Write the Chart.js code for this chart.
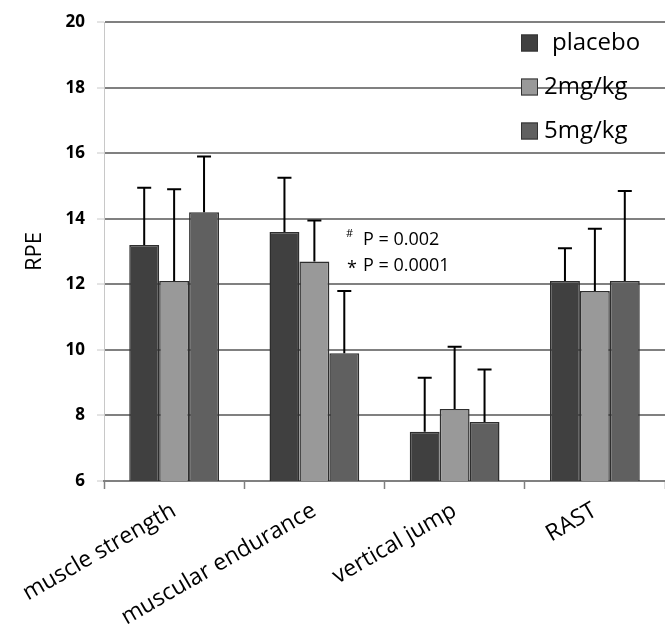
<!DOCTYPE html>
<html>
<head>
<meta charset="utf-8">
<script src="https://cdn.jsdelivr.net/npm/chart.js@4.4.1/dist/chart.umd.min.js"></script>
<style>
  html, body { margin: 0; padding: 0; background: #fff; }
  #wrap { width: 665px; height: 639px; }
</style>
</head>
<body>
<div id="wrap"><canvas id="myChart" width="665" height="639"></canvas></div>
<script>
// data
const categories = ['muscle strength', 'muscular endurance', 'vertical jump', 'RAST'];
const seriesNames = ['placebo', '2mg/kg', '5mg/kg'];
const placebo = [13.2, 13.6, 7.5, 12.1];
const mg2 = [12.1, 12.7, 8.2, 11.8];
const mg5 = [14.2, 9.9, 7.8, 12.1];
const placeboSD = [1.75, 1.65, 1.65, 1.0];
const mg2SD = [2.8, 1.25, 1.9, 1.9];
const mg5SD = [1.7, 1.9, 1.6, 2.75];
const yTicks = [6, 8, 10, 12, 14, 16, 18, 20];
const noteLines = ['P = 0.002', 'P = 0.0001'];
const noteMarks = ['#', '*'];

const colors = ['#404040', '#999999', '#606060'];
const FONT = '"Open Sans", Lato, sans-serif';

const canvas = document.getElementById('myChart');
const ctx = canvas.getContext('2d');

// upper error bars with caps
const errorBars = {
  id: 'errorBars',
  afterDatasetsDraw(chart) {
    const c = chart.ctx;
    const y = chart.scales.y;
    c.save();
    c.strokeStyle = '#000';
    c.lineWidth = 2;
    chart.data.datasets.forEach((ds, i) => {
      const meta = chart.getDatasetMeta(i);
      meta.data.forEach((bar, j) => {
        const top = y.getPixelForValue(ds.data[j] + ds.sd[j]);
        c.beginPath();
        c.moveTo(bar.x, bar.y);
        c.lineTo(bar.x, top);
        c.moveTo(bar.x - 7, top);
        c.lineTo(bar.x + 7, top);
        c.stroke();
      });
    });
    c.restore();
  }
};

// legend and p-value note drawn inside the plot
const extras = {
  id: 'extras',
  afterDraw(chart) {
    const c = chart.ctx;
    c.save();
    c.textBaseline = 'middle';
    seriesNames.forEach((name, i) => {
      const cy = 43 + i * 44;
      c.fillStyle = colors[i];
      c.fillRect(521, cy - 8.5, 17, 17);
      c.strokeStyle = '#333';
      c.lineWidth = 1;
      c.strokeRect(521.5, cy - 8, 16, 16);
      c.fillStyle = '#000';
      c.font = '24px ' + FONT;
      c.fillText(name, i === 0 ? 552 : 544, cy);
    });
    c.font = '18px ' + FONT;
    c.fillText(noteLines[0], 363, 240);
    c.fillText(noteLines[1], 363, 266);
    c.font = '11px ' + FONT;
    c.fillText(noteMarks[0], 346, 234);
    c.font = '18px ' + FONT;
    c.fillText(noteMarks[1], 347, 269);
    c.restore();
  }
};

new Chart(ctx, {
  type: 'bar',
  data: {
    labels: categories,
    datasets: [
      { label: seriesNames[0], data: placebo, sd: placeboSD },
      { label: seriesNames[1], data: mg2, sd: mg2SD },
      { label: seriesNames[2], data: mg5, sd: mg5SD }
    ].map((d, i) => Object.assign(d, {
      backgroundColor: colors[i],
      borderColor: '#2e2e2e',
      borderWidth: 1.5,
      barPercentage: 1,
      categoryPercentage: 0.64
    }))
  },
  options: {
    responsive: false,
    animation: false,
    layout: { padding: { top: 21, left: 0, right: -7, bottom: 0 } },
    plugins: { legend: { display: false }, tooltip: { enabled: false } },
    scales: {
      y: {
        min: 6,
        max: 20,
        afterBuildTicks(scale) { scale.ticks = yTicks.map(v => ({ value: v })); },
        afterFit(scale) { scale.width = 104; },
        border: { color: '#c8c8c8', width: 1 },
        grid: { color: '#808080', lineWidth: 2, tickColor: '#c8c8c8', tickLength: 7, tickWidth: 1 },
        ticks: { color: '#000', padding: 12, font: { family: FONT, size: 17, weight: 'bold' } },
        title: {
          display: true,
          text: 'RPE',
          color: '#000',
          padding: { top: 22, bottom: 0 },
          font: { family: FONT, size: 22 }
        }
      },
      x: {
        afterFit(scale) { scale.height = 158; },
        border: { color: '#808080', width: 2 },
        grid: { drawOnChartArea: false, drawTicks: true, tickColor: '#808080', tickLength: 8, tickWidth: 1.5 },
        ticks: {
          color: '#000',
          minRotation: 30,
          maxRotation: 30,
          padding: 8,
          font: { family: FONT, size: 23 }
        }
      }
    }
  },
  plugins: [errorBars, extras]
});
</script>
</body>
</html>
